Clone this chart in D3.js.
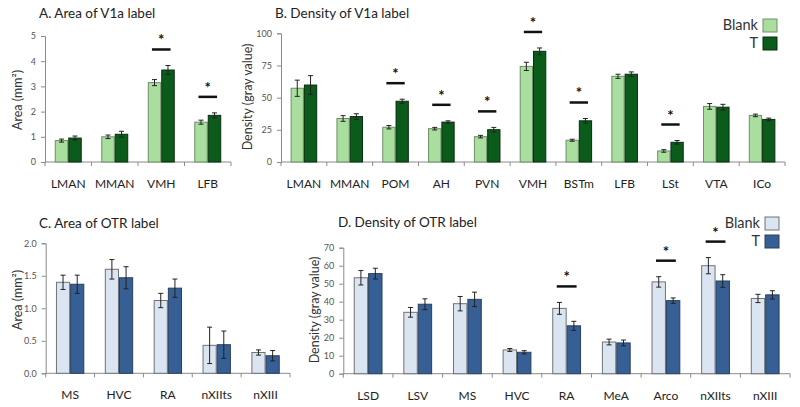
<!DOCTYPE html>
<html><head><meta charset="utf-8">
<script src="https://cdn.jsdelivr.net/npm/d3@7"></script>
<style>body{margin:0;background:#fff}svg{display:block}text{font-family:Lato,"Open Sans",sans-serif}</style>
</head><body><svg id="c" width="800" height="407"></svg>
<script>
// ---- Data ----
const seriesNames = ["Blank", "T"];

const catsA = ["LMAN", "MMAN", "VMH", "LFB"];
const blankA = [0.85, 1.0, 3.15, 1.58];
const tA = [0.95, 1.1, 3.65, 1.85];
const blankErrA = [0.06, 0.07, 0.12, 0.08];
const tErrA = [0.08, 0.12, 0.18, 0.1];
const sigA = ["VMH", "LFB"];
const ticksA = [0, 1, 2, 3, 4, 5];

const catsB = ["LMAN", "MMAN", "POM", "AH", "PVN", "VMH", "BSTm", "LFB", "LSt", "VTA", "ICo"];
const blankB = [57.3, 33.8, 27.0, 25.9, 19.7, 74.3, 16.9, 66.6, 8.6, 43.2, 36.2];
const tB = [59.8, 35.3, 47.2, 31.0, 25.1, 86.0, 32.0, 68.2, 15.3, 42.6, 33.1];
const blankErrB = [6.3, 2.2, 1.3, 1.0, 1.0, 3.2, 0.8, 1.6, 1.0, 2.2, 1.0];
const tErrB = [7.3, 2.2, 1.6, 1.0, 1.8, 2.6, 1.8, 1.8, 1.4, 2.2, 1.0];
const sigB = ["POM", "AH", "PVN", "VMH", "BSTm", "LSt"];
const ticksB = [0, 25, 50, 75, 100];

const catsC = ["MS", "HVC", "RA", "nXIIts", "nXIII"];
const blankC = [1.40, 1.60, 1.12, 0.43, 0.32];
const tC = [1.37, 1.47, 1.31, 0.44, 0.27];
const blankErrC = [0.11, 0.15, 0.11, 0.28, 0.04];
const tErrC = [0.14, 0.17, 0.14, 0.21, 0.08];
const sigC = [];
const ticksC = [0, 0.5, 1.0, 1.5, 2.0];

const catsD = ["LSD", "LSV", "MS", "HVC", "RA", "MeA", "Arco", "nXIIts", "nXIII"];
const blankD = [53.3, 34.1, 38.9, 13.2, 36.3, 17.6, 51.0, 60.0, 41.8];
const tD = [55.6, 38.6, 41.3, 11.9, 26.6, 17.1, 40.6, 51.5, 43.8];
const blankErrD = [4.0, 2.7, 4.0, 0.8, 3.3, 1.6, 2.9, 4.5, 2.3];
const tErrD = [3.0, 3.0, 4.0, 0.9, 2.5, 1.6, 1.5, 3.5, 2.3];
const sigD = ["RA", "Arco", "nXIIts"];
const ticksD = [0, 10, 20, 30, 40, 50, 60, 70];

const greens = {Blank: "#a9de9e", T: "#0b5b1b"};
const greenStroke = {Blank: "#6e8f68", T: "#0a2e10"};
const blues = {Blank: "#dbe5f1", T: "#365f95"};
const blueStroke = {Blank: "#6f7276", T: "#2a3f5c"};

const svg = d3.select("#c");

function panel(o) {
  const g = svg.append("g");
  const x = d3.scaleBand().domain(o.cats).range([o.x0, o.x1]).padding(0);
  const y = d3.scaleLinear().domain([0, o.ymax]).range([o.yb, o.yt]);
  const bw = x.bandwidth();
  const pairW = bw * 0.58;
  const xs = d3.scaleBand().domain(seriesNames).range([0, pairW]).padding(0);

  // y axis
  const ya = d3.axisLeft(y).tickValues(o.ticks).tickSize(4).tickPadding(5).tickFormat(o.fmt);
  const yg = g.append("g").attr("transform", `translate(${o.x0},0)`).call(ya);
  yg.select(".domain").attr("stroke", "#8a8a8a");
  yg.selectAll(".tick line").attr("stroke", "#8a8a8a");
  yg.selectAll(".tick text").attr("fill", "#555").style("font-size", "9px");

  // x axis
  g.append("line").attr("x1", o.x0).attr("x2", o.x1).attr("y1", o.yb).attr("y2", o.yb).attr("stroke", "#8a8a8a");
  const bounds = o.cats.map(c => x(c)).concat([o.x1]);
  g.selectAll(".xt").data(bounds).join("line")
    .attr("x1", d => d).attr("x2", d => d).attr("y1", o.yb).attr("y2", o.yb + 4).attr("stroke", "#8a8a8a");
  g.selectAll(".xl").data(o.cats).join("text")
    .attr("x", d => x(d) + bw / 2).attr("y", o.yb + 26).attr("text-anchor", "middle")
    .attr("fill", "#222").style("font-size", "12px").text(d => d);

  // bars
  const rows = o.cats.map((c, i) => ({c, vals: [
    {s: "Blank", v: o.blank[i], e: o.blankErr[i]},
    {s: "T", v: o.t[i], e: o.tErr[i]}]}));
  const grp = g.selectAll(".grp").data(rows).join("g")
    .attr("transform", d => `translate(${x(d.c) + (bw - pairW) / 2},0)`);
  grp.selectAll("rect").data(d => d.vals).join("rect")
    .attr("x", d => xs(d.s) + 0.5).attr("width", xs.bandwidth() - 1)
    .attr("y", d => y(d.v)).attr("height", d => y(0) - y(d.v))
    .attr("fill", d => o.fill[d.s]).attr("stroke", d => o.stroke[d.s]).attr("stroke-width", 1);
  const eb = grp.selectAll(".eb").data(d => d.vals).join("g");
  const cx = d => xs(d.s) + xs.bandwidth() / 2;
  eb.append("line").attr("x1", cx).attr("x2", cx).attr("y1", d => y(d.v + d.e)).attr("y2", d => y(d.v - d.e))
    .attr("stroke", "#222").attr("stroke-width", 1);
  [1, -1].forEach(sg => {
    eb.append("line").attr("x1", d => cx(d) - 2.5).attr("x2", d => cx(d) + 2.5)
      .attr("y1", d => y(d.v + sg * d.e)).attr("y2", d => y(d.v + sg * d.e))
      .attr("stroke", "#222").attr("stroke-width", 1);
  });

  // significance
  o.sig.forEach(c => {
    const i = o.cats.indexOf(c);
    const top = Math.max(o.blank[i] + o.blankErr[i], o.t[i] + o.tErr[i]);
    const ly = y(top) - 16;
    const cxm = x(c) + bw / 2;
    g.append("line").attr("x1", cxm - bw * 0.2).attr("x2", cxm + bw * 0.2).attr("y1", ly).attr("y2", ly)
      .attr("stroke", "#111").attr("stroke-width", 2.5);
    g.append("text").attr("x", cxm).attr("y", ly - 4).attr("text-anchor", "middle")
      .style("font-size", "15px").style("font-weight", "bold").attr("fill", "#111").text("*");
  });

  // title
  g.append("text").attr("x", o.tx).attr("y", o.ty).style("font-size", "13.5px").attr("fill", "#222").text(o.title);
  // y label
  g.append("text").attr("transform", `translate(${o.lx},${o.ly}) rotate(-90)`).attr("text-anchor", "middle")
    .style("font-size", "12.5px").attr("fill", "#333").text(o.ylabel);

  // legend
  if (o.legend) {
    seriesNames.forEach((s, k) => {
      g.append("rect").attr("x", o.legend[0]).attr("y", o.legend[1] + k * 18).attr("width", 14).attr("height", 13)
        .attr("fill", o.fill[s]).attr("stroke", o.stroke[s]);
      g.append("text").attr("x", o.legend[0] - 5).attr("y", o.legend[1] + k * 18 + 11).attr("text-anchor", "end")
        .style("font-size", "14.5px").attr("fill", "#333").text(s);
    });
  }
}

panel({cats: catsA, blank: blankA, t: tA, blankErr: blankErrA, tErr: tErrA, sig: sigA, ticks: ticksA, ymax: 5,
  fmt: d3.format("d"), x0: 45, x1: 231, yt: 36, yb: 162, fill: greens, stroke: greenStroke,
  title: "A. Area of V1a label", tx: 39, ty: 18, ylabel: "Area (mm²)", lx: 22, ly: 100});
panel({cats: catsB, blank: blankB, t: tB, blankErr: blankErrB, tErr: tErrB, sig: sigB, ticks: ticksB, ymax: 100,
  fmt: d3.format("d"), x0: 281, x1: 785, yt: 33.3, yb: 162, fill: greens, stroke: greenStroke,
  title: "B. Density of V1a label", tx: 275, ty: 18, ylabel: "Density (gray value)", lx: 252, ly: 97,
  legend: [763, 19]});
panel({cats: catsC, blank: blankC, t: tC, blankErr: blankErrC, tErr: tErrC, sig: sigC, ticks: ticksC, ymax: 2,
  fmt: d3.format(".1f"), x0: 45.7, x1: 290, yt: 243.3, yb: 373.3, fill: blues, stroke: blueStroke,
  title: "C. Area of OTR label", tx: 39, ty: 228, ylabel: "Area (mm²)", lx: 22, ly: 300});
panel({cats: catsD, blank: blankD, t: tD, blankErr: blankErrD, tErr: tErrD, sig: sigD, ticks: ticksD, ymax: 70,
  fmt: d3.format("d"), x0: 343.3, x1: 790, yt: 247.7, yb: 373.7, fill: blues, stroke: blueStroke,
  title: "D. Density of OTR label", tx: 338, ty: 227, ylabel: "Density (gray value)", lx: 319, ly: 310,
  legend: [765, 217]});
</script></body></html>
